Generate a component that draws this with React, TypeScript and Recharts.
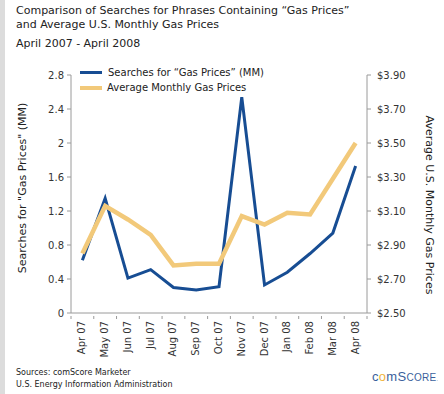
import React from 'react';
import { LineChart, Line, XAxis, YAxis } from 'recharts';

const months = ['Apr 07', 'May 07', 'Jun 07', 'Jul 07', 'Aug 07', 'Sep 07', 'Oct 07', 'Nov 07', 'Dec 07', 'Jan 08', 'Feb 08', 'Mar 08', 'Apr 08'];
const searches = [0.62, 1.35, 0.41, 0.51, 0.3, 0.27, 0.31, 2.54, 0.33, 0.48, 0.7, 0.94, 1.73];
const gasPrices = [2.85, 3.13, 3.05, 2.96, 2.78, 2.79, 2.79, 3.07, 3.02, 3.09, 3.08, 3.29, 3.5];
const leftTicks = [0, 0.4, 0.8, 1.2, 1.6, 2, 2.4, 2.8];
const rightTicks = [2.5, 2.7, 2.9, 3.1, 3.3, 3.5, 3.7, 3.9];

const data = months.map((m, i) => ({ month: m, searches: searches[i], gas: gasPrices[i] }));

const FONT = '"DejaVu Sans", Verdana, sans-serif';
const BLUE = '#174d93';
const ORANGE = '#f2c97a';
const AXIS = '#9a9a9a';

const STEP = 296 / 13;

const MonthTick = (props: any) => {
  const { x, y, payload, index } = props;
  return (
    <g>
      <line x1={x - STEP / 2} y1={y - 5} x2={x - STEP / 2} y2={y - 2} stroke={AXIS} />
      {index === months.length - 1 && (
        <line x1={x + STEP / 2} y1={y - 5} x2={x + STEP / 2} y2={y - 2} stroke={AXIS} />
      )}
      <text x={x} y={y} dy={3} transform={`rotate(-90, ${x}, ${y})`} textAnchor="end" fontSize={10} fill="#333" fontFamily={FONT}>
        {payload.value}
      </text>
    </g>
  );
};

// axis titles placed like the original (left one further out, right one a bit lower)
const LeftTitle = (props: any) => {
  const { viewBox } = props;
  const x = viewBox.x + 5;
  const y = 188;
  return (
    <text x={x} y={y} transform={`rotate(-90, ${x}, ${y})`} textAnchor="middle" fontSize={11} fill="#222" fontFamily={FONT}>
      Searches for "Gas Prices" (MM)
    </text>
  );
};

const RightTitle = (props: any) => {
  const { viewBox } = props;
  const x = viewBox.x + viewBox.width - 1;
  const y = 205;
  return (
    <text x={x} y={y} transform={`rotate(90, ${x}, ${y})`} textAnchor="middle" fontSize={11} fill="#222" fontFamily={FONT}>
      Average U.S. Monthly Gas Prices
    </text>
  );
};

export default function App() {
  return (
    <div style={{ position: 'absolute', left: 0, top: 0, width: 444, height: 394, background: '#fff', fontFamily: FONT, overflow: 'hidden' }}>
      <div style={{ position: 'absolute', left: 0, top: 0, width: 5, height: 394, background: '#dcdcdc' }} />
      <div style={{ position: 'absolute', left: 16, top: 4, fontSize: 11, lineHeight: '14px', color: '#222' }}>
        Comparison of Searches for Phrases Containing “Gas Prices”<br />
        and Average U.S. Monthly Gas Prices
      </div>
      <div style={{ position: 'absolute', left: 16, top: 37, fontSize: 11, color: '#222' }}>April 2007 - April 2008</div>

      <LineChart width={444} height={394} data={data} margin={{ top: 75, right: 17, bottom: 31, left: 21 }} style={{ position: 'absolute', left: 0, top: 0 }}>
        <XAxis
          dataKey="month"
          interval={0}
          height={50}
          padding={{ left: STEP / 2, right: STEP / 2 }}
          stroke={AXIS}
          tickLine={false}
          tick={<MonthTick />}
        />
        <YAxis
          yAxisId="left"
          domain={[0, 2.8]}
          ticks={leftTicks}
          width={50}
          stroke={AXIS}
          tickSize={4}
          tickMargin={3}
          tick={{ fontSize: 10, fill: '#333', fontFamily: FONT }}
          label={<LeftTitle />}
        />
        <YAxis
          yAxisId="right"
          orientation="right"
          domain={[2.5, 3.9]}
          ticks={rightTicks}
          width={60}
          stroke={AXIS}
          tickSize={4}
          tickMargin={6}
          tickFormatter={(v: number) => `$${v.toFixed(2)}`}
          tick={{ fontSize: 10, fill: '#333', fontFamily: FONT }}
          label={<RightTitle />}
        />
        <Line yAxisId="left" dataKey="searches" stroke={BLUE} strokeWidth={3} dot={false} isAnimationActive={false} />
        <Line yAxisId="right" dataKey="gas" stroke={ORANGE} strokeWidth={4.5} dot={false} isAnimationActive={false} />
      </LineChart>

      <div style={{ position: 'absolute', left: 80, top: 65, fontSize: 10, color: '#222', lineHeight: '15px' }}>
        <div style={{ display: 'flex', alignItems: 'center' }}>
          <span style={{ display: 'inline-block', width: 22, height: 3, background: BLUE, marginRight: 6 }} />
          Searches for “Gas Prices” (MM)
        </div>
        <div style={{ display: 'flex', alignItems: 'center' }}>
          <span style={{ display: 'inline-block', width: 22, height: 4, background: ORANGE, marginRight: 5 }} />
          Average Monthly Gas Prices
        </div>
      </div>

      <div style={{ position: 'absolute', left: 16, top: 367, fontSize: 8, lineHeight: '12px', color: '#222' }}>
        Sources: comScore Marketer<br />
        U.S. Energy Information Administration
      </div>
      <div style={{ position: 'absolute', left: 372, top: 369, fontSize: 13, color: '#3a5f9c', fontFamily: '"Liberation Sans", sans-serif', letterSpacing: 0.3 }}>
        c<span style={{ color: '#f0b33a' }}>o</span>mS<span style={{ fontSize: 10 }}>CORE</span><span style={{ fontSize: 5 }}>.</span>
      </div>
    </div>
  );
}
